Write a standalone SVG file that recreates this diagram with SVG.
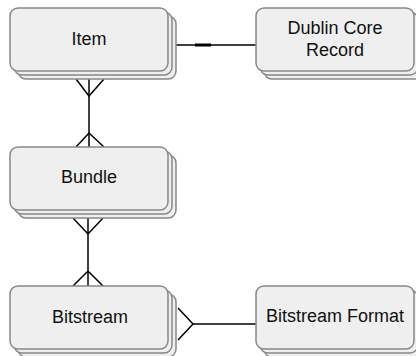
<svg xmlns="http://www.w3.org/2000/svg" width="416" height="356" viewBox="0 0 416 356">
  <style>
    .card { fill: #efefef; stroke: #888888; stroke-width: 1.5; }
    .lbl { font-family: "Liberation Sans", Arial, sans-serif; font-size: 18px; fill: #111111; text-anchor: middle; }
    .edge { fill: none; stroke: #000000; stroke-width: 1.5; }
  </style>
  <defs>
    <!-- stacked card: two offset sheets behind a front sheet -->
    <g id="stack">
      <rect class="card" x="8" y="8" width="158" height="63" rx="8"/>
      <rect class="card" x="4" y="4" width="158" height="63" rx="8"/>
      <rect class="card" x="0" y="0" width="158" height="63" rx="8"/>
    </g>
  </defs>

  <g id="connectors">
    <!-- Item — Dublin Core Record (one-to-one) -->
    <line class="edge" x1="176" y1="45" x2="257" y2="45"/>
    <line x1="195" y1="45" x2="211" y2="45" stroke="#000" stroke-width="3"/>
    <!-- Item — Bundle (many-to-many) -->
    <line class="edge" x1="89" y1="79" x2="89" y2="147"/>
    <polyline class="edge" points="76,79 89,96 104,79"/>
    <polyline class="edge" points="76,147 89,133 104,147"/>
    <!-- Bundle — Bitstream (many-to-many) -->
    <line class="edge" x1="88" y1="218" x2="88" y2="286"/>
    <polyline class="edge" points="73,218 88,234 103,218"/>
    <polyline class="edge" points="73,286 88,271 103,286"/>
    <!-- Bitstream — Bitstream Format (many-to-one) -->
    <line class="edge" x1="193" y1="324" x2="257" y2="324"/>
    <polyline class="edge" points="178,308 193,324 178,340"/>
  </g>

  <g id="item">
    <use href="#stack" x="10" y="8"/>
    <text class="lbl" x="89" y="45">Item</text>
  </g>

  <g id="dublin-core-record">
    <use href="#stack" x="256" y="8"/>
    <text class="lbl" x="335" y="34">Dublin Core</text>
    <text class="lbl" x="335" y="56">Record</text>
  </g>

  <g id="bundle">
    <use href="#stack" x="10" y="147"/>
    <text class="lbl" x="89" y="183">Bundle</text>
  </g>

  <g id="bitstream">
    <use href="#stack" x="10" y="286"/>
    <text class="lbl" x="90" y="323">Bitstream</text>
  </g>

  <g id="bitstream-format">
    <use href="#stack" x="256" y="286"/>
    <text class="lbl" x="335" y="322">Bitstream Format</text>
  </g>
</svg>
